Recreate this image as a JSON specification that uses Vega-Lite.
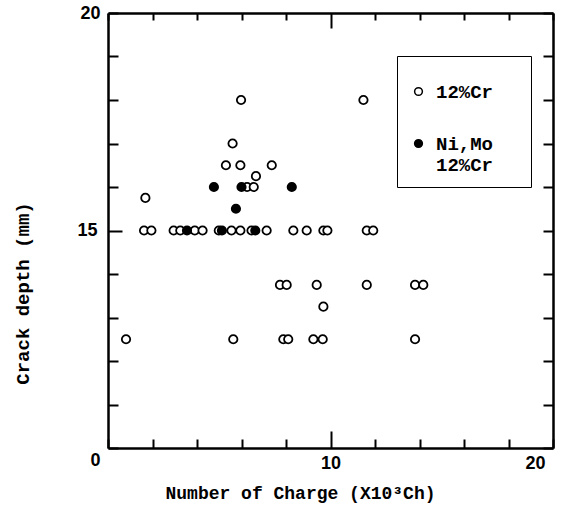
{
  "$schema": "https://vega.github.io/schema/vega-lite/v6.json",
  "width": 445,
  "height": 435,
  "autosize": {"type": "none"},
  "padding": {"left": 108, "top": 13, "right": 9, "bottom": 61},
  "background": "white",
  "config": {
    "view": {"stroke": null},
    "axis": {
      "grid": false,
      "domainColor": "black",
      "domainWidth": 2.5,
      "tickColor": "black",
      "tickWidth": 2,
      "labelColor": "black",
      "titleColor": "black",
      "labelFont": "Liberation Sans",
      "labelFontSize": 18,
      "labelFontWeight": "bold",
      "titleFont": "Liberation Mono",
      "titleFontWeight": "bold",
      "titleFontSize": 18
    }
  },
  "data": {
    "values": [
      {"charge": 5.98, "depth": 16.0, "steel": "12%Cr"},
      {"charge": 11.48, "depth": 16.0, "steel": "12%Cr"},
      {"charge": 5.6, "depth": 14.0, "steel": "12%Cr"},
      {"charge": 5.3, "depth": 13.0, "steel": "12%Cr"},
      {"charge": 5.95, "depth": 13.0, "steel": "12%Cr"},
      {"charge": 7.36, "depth": 13.0, "steel": "12%Cr"},
      {"charge": 6.65, "depth": 12.5, "steel": "12%Cr"},
      {"charge": 1.68, "depth": 11.5, "steel": "12%Cr"},
      {"charge": 6.25, "depth": 12.0, "steel": "12%Cr"},
      {"charge": 6.55, "depth": 12.0, "steel": "12%Cr"},
      {"charge": 1.62, "depth": 10.0, "steel": "12%Cr"},
      {"charge": 1.95, "depth": 10.0, "steel": "12%Cr"},
      {"charge": 2.95, "depth": 10.0, "steel": "12%Cr"},
      {"charge": 3.25, "depth": 10.0, "steel": "12%Cr"},
      {"charge": 3.9, "depth": 10.0, "steel": "12%Cr"},
      {"charge": 4.25, "depth": 10.0, "steel": "12%Cr"},
      {"charge": 4.98, "depth": 10.0, "steel": "12%Cr"},
      {"charge": 5.55, "depth": 10.0, "steel": "12%Cr"},
      {"charge": 5.95, "depth": 10.0, "steel": "12%Cr"},
      {"charge": 6.45, "depth": 10.0, "steel": "12%Cr"},
      {"charge": 7.13, "depth": 10.0, "steel": "12%Cr"},
      {"charge": 8.33, "depth": 10.0, "steel": "12%Cr"},
      {"charge": 8.93, "depth": 10.0, "steel": "12%Cr"},
      {"charge": 9.68, "depth": 10.0, "steel": "12%Cr"},
      {"charge": 9.86, "depth": 10.0, "steel": "12%Cr"},
      {"charge": 11.63, "depth": 10.0, "steel": "12%Cr"},
      {"charge": 11.92, "depth": 10.0, "steel": "12%Cr"},
      {"charge": 7.73, "depth": 7.5, "steel": "12%Cr"},
      {"charge": 8.03, "depth": 7.5, "steel": "12%Cr"},
      {"charge": 9.38, "depth": 7.5, "steel": "12%Cr"},
      {"charge": 11.63, "depth": 7.5, "steel": "12%Cr"},
      {"charge": 13.8, "depth": 7.5, "steel": "12%Cr"},
      {"charge": 14.17, "depth": 7.5, "steel": "12%Cr"},
      {"charge": 9.68, "depth": 6.5, "steel": "12%Cr"},
      {"charge": 0.81, "depth": 5.0, "steel": "12%Cr"},
      {"charge": 5.63, "depth": 5.0, "steel": "12%Cr"},
      {"charge": 7.88, "depth": 5.0, "steel": "12%Cr"},
      {"charge": 8.1, "depth": 5.0, "steel": "12%Cr"},
      {"charge": 9.23, "depth": 5.0, "steel": "12%Cr"},
      {"charge": 9.65, "depth": 5.0, "steel": "12%Cr"},
      {"charge": 13.8, "depth": 5.0, "steel": "12%Cr"},
      {"charge": 4.76, "depth": 12.0, "steel": "Ni,Mo 12%Cr"},
      {"charge": 6.0, "depth": 12.0, "steel": "Ni,Mo 12%Cr"},
      {"charge": 8.26, "depth": 12.0, "steel": "Ni,Mo 12%Cr"},
      {"charge": 5.75, "depth": 11.0, "steel": "Ni,Mo 12%Cr"},
      {"charge": 3.55, "depth": 10.0, "steel": "Ni,Mo 12%Cr"},
      {"charge": 5.12, "depth": 10.0, "steel": "Ni,Mo 12%Cr"},
      {"charge": 6.62, "depth": 10.0, "steel": "Ni,Mo 12%Cr"}
    ]
  },
  "layer": [
    {
      "mark": {"type": "point", "shape": "circle", "filled": true, "stroke": "black", "strokeWidth": 1.8, "size": 70, "opacity": 1},
      "encoding": {
        "x": {
          "field": "charge", "type": "quantitative",
          "scale": {"domain": [0, 20], "nice": false, "zero": false},
          "axis": {
            "orient": "bottom",
            "values": [0, 2, 4, 6, 8, 10, 12, 14, 16, 18, 20],
            "labelExpr": "datum.value == 10 || datum.value == 20 ? datum.label : ''",
            "tickSize": {"condition": {"test": "datum.value == 10", "value": -17}, "value": -9},
            "labelOffset": {"condition": {"test": "datum.value == 20", "value": -8}, "value": 0},
            "labelPadding": {"condition": {"test": "datum.value == 10", "value": 23}, "value": 15},
            "title": "Number of Charge (X10³Ch)",
            "titleX": 192,
            "titleY": 45,
            "titleBaseline": "middle"
          }
        },
        "y": {
          "field": "depth", "type": "quantitative",
          "scale": {"domain": [0, 20], "nice": false, "zero": false},
          "axis": {
            "orient": "left",
            "values": [0, 2, 4, 6, 8, 10, 12, 14, 16, 18, 20],
            "labelExpr": "datum.value == 20 ? '20' : datum.value == 10 ? '15' : datum.value == 0 ? '0' : ''",
            "tickSize": {"condition": {"test": "datum.value == 10", "value": -14}, "value": -10},
            "labelOffset": {"condition": {"test": "datum.value == 0", "value": 12}, "value": 0},
            "labelPadding": {"condition": {"test": "datum.value == 10", "value": 25}, "value": 18},
            "title": "Crack depth (mm)",
            "titleFontSize": 19,
            "titleX": -86,
            "titleY": 280,
            "titleAngle": -90,
            "titleBaseline": "middle",
            "titleAlign": "center"
          }
        },
        "fill": {
          "field": "steel", "type": "nominal",
          "scale": {"domain": ["12%Cr", "Ni,Mo 12%Cr"], "range": ["white", "black"]},
          "legend": {
            "orient": "none",
            "legendX": 289,
            "legendY": 43,
            "title": " ",
            "titleFontSize": 14,
            "titlePadding": 0,
            "padding": 12,
            "strokeColor": "black",
            "symbolType": "circle",
            "symbolSize": 60,
            "symbolStrokeColor": "black",
            "symbolStrokeWidth": 1.5,
            "labelFont": "Liberation Mono",
            "labelFontWeight": "bold",
            "labelFontSize": 19,
            "labelColor": "black",
            "labelOffset": 8,
            "labelLimit": 400,
            "labelBaseline": "middle",
            "rowPadding": 32,
            "labelExpr": "datum.label == '12%Cr' ? '12%Cr\u00a0\u2800' : ['Ni,Mo\u00a0\u2800', '12%Cr\u00a0\u2800']"
          }
        }
      }
    },
    {
      "mark": {"type": "point", "opacity": 0},
      "encoding": {
        "x": {
          "field": "charge", "type": "quantitative",
          "axis": {
            "orient": "top",
            "values": [0, 2, 4, 6, 8, 10, 12, 14, 16, 18, 20],
            "labels": false,
            "tickSize": {"condition": {"test": "datum.value == 10", "value": -15}, "value": -7},
            "title": null
          }
        },
        "y": {
          "field": "depth", "type": "quantitative",
          "axis": {
            "orient": "right",
            "values": [0, 2, 4, 6, 8, 10, 12, 14, 16, 18, 20],
            "labels": false,
            "tickSize": -10,
            "title": null
          }
        }
      }
    }
  ],
  "resolve": {"axis": {"x": "independent", "y": "independent"}}
}
